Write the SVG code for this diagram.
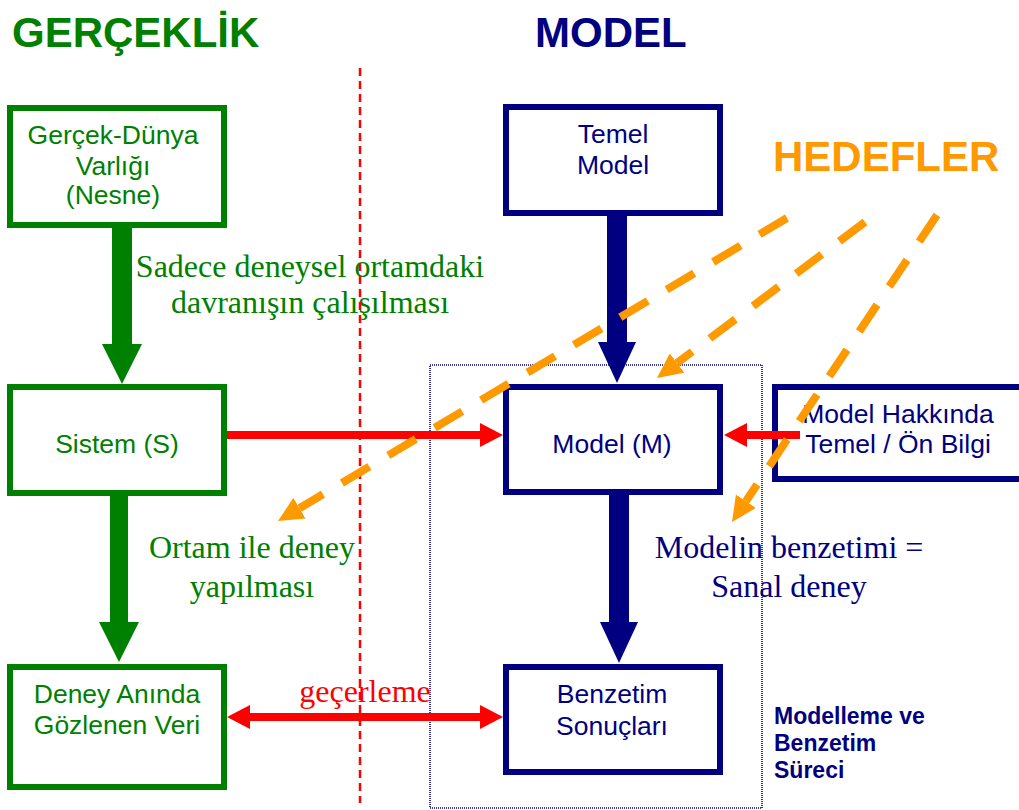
<svg xmlns="http://www.w3.org/2000/svg" width="1019" height="810" viewBox="0 0 1019 810">
  <style>
    .sans { font-family: "Liberation Sans", Arial, sans-serif; }
    .serif { font-family: "Liberation Serif", "Times New Roman", serif; font-size: 32px; }
    .title { font-family: "Liberation Sans", Arial, sans-serif; font-size: 42px; font-weight: bold; }
    .gbox { fill: #ffffff; stroke: #008000; stroke-width: 6; }
    .nbox { fill: #ffffff; stroke: #000080; stroke-width: 6; }
    .glabel { font-family: "Liberation Sans", Arial, sans-serif; font-size: 26.5px; fill: #008000; text-anchor: middle; }
    .nlabel { font-family: "Liberation Sans", Arial, sans-serif; font-size: 26.5px; fill: #000080; text-anchor: middle; }
    .green-flow { stroke: #008000; fill: none; }
    .navy-flow { stroke: #000080; stroke-width: 20; fill: none; }
    .red-flow { stroke: #ff0000; stroke-width: 8; fill: none; }
    .goal { stroke: #ff9900; stroke-width: 8; stroke-dasharray: 32 22; fill: none; }
  </style>
  <defs>
    <marker id="greenHead" markerUnits="userSpaceOnUse" markerWidth="40" markerHeight="40" refX="0" refY="20" orient="auto" viewBox="0 0 40 40">
      <path d="M0,0 L40,20 L0,40 z" fill="#008000"/>
    </marker>
    <marker id="navyHead" markerUnits="userSpaceOnUse" markerWidth="41" markerHeight="38" refX="0" refY="19" orient="auto" viewBox="0 0 41 38">
      <path d="M0,0 L41,19 L0,38 z" fill="#000080"/>
    </marker>
    <marker id="redHead" markerUnits="userSpaceOnUse" markerWidth="23" markerHeight="24" refX="0" refY="12" orient="auto-start-reverse" viewBox="0 0 23 24">
      <path d="M0,0 L23,12 L0,24 z" fill="#ff0000"/>
    </marker>
    <marker id="orangeHead" markerUnits="userSpaceOnUse" markerWidth="25" markerHeight="24" refX="0" refY="12" orient="auto" viewBox="0 0 25 24">
      <path d="M0,0 L25,12 L0,24 z" fill="#ff9900"/>
    </marker>
  </defs>

  <rect x="0" y="0" width="1019" height="810" fill="#ffffff"/>

  <!-- column headings -->
  <text class="title" x="12" y="47" fill="#008000">GERÇEKLİK</text>
  <text class="title" x="535" y="47" fill="#000080">MODEL</text>
  <text class="title" x="773" y="171" fill="#ff9900">HEDEFLER</text>

  <!-- modelling / simulation frame -->
  <rect id="process-frame" x="430" y="365" width="332" height="443" fill="none" stroke="#000080" stroke-width="1.6" stroke-dasharray="1 1"/>

  <!-- reality side -->
  <g id="real-world-entity">
    <rect class="gbox" x="10" y="108" width="214" height="117"/>
    <text class="glabel" x="113" y="144">Gerçek-Dünya</text>
    <text class="glabel" x="113" y="175">Varlığı</text>
    <text class="glabel" x="113" y="204">(Nesne)</text>
  </g>
  <g id="system">
    <rect class="gbox" x="10" y="387" width="214" height="106"/>
    <text class="glabel" x="117" y="453">Sistem (S)</text>
  </g>
  <g id="observed-data">
    <rect class="gbox" x="10" y="667" width="214" height="120"/>
    <text class="glabel" x="117" y="703">Deney Anında</text>
    <text class="glabel" x="117" y="734">Gözlenen Veri</text>
  </g>

  <!-- model side -->
  <g id="base-model">
    <rect class="nbox" x="506" y="107" width="214" height="106"/>
    <text class="nlabel" x="613" y="143">Temel</text>
    <text class="nlabel" x="613" y="174">Model</text>
  </g>
  <g id="model">
    <rect class="nbox" x="506" y="387" width="214" height="105"/>
    <text class="nlabel" x="612" y="453">Model (M)</text>
  </g>
  <g id="prior-knowledge">
    <rect class="nbox" x="775" y="387" width="260" height="92"/>
    <text class="nlabel" x="898" y="423">Model Hakkında</text>
    <text class="nlabel" x="898" y="453">Temel / Ön Bilgi</text>
  </g>
  <g id="simulation-results">
    <rect class="nbox" x="506" y="667" width="214" height="105"/>
    <text class="nlabel" x="612" y="703">Benzetim</text>
    <text class="nlabel" x="612" y="735">Sonuçları</text>
  </g>

  <!-- edge labels -->
  <g id="labels">
    <text class="serif" x="310" y="277" fill="#008000" text-anchor="middle">Sadece deneysel ortamdaki</text>
    <text class="serif" x="310" y="313" fill="#008000" text-anchor="middle">davranışın çalışılması</text>
    <text class="serif" x="252" y="558" fill="#008000" text-anchor="middle">Ortam ile deney</text>
    <text class="serif" x="252" y="597" fill="#008000" text-anchor="middle">yapılması</text>
    <text class="serif" x="789" y="558" fill="#000080" text-anchor="middle">Modelin benzetimi =</text>
    <text class="serif" x="789" y="597" fill="#000080" text-anchor="middle">Sanal deney</text>
    <text class="serif" x="365" y="702" fill="#ff0000" text-anchor="middle">geçerleme</text>
    <g class="sans" font-size="23" font-weight="bold" fill="#000080">
      <text x="774" y="724">Modelleme ve</text>
      <text x="774" y="751">Benzetim</text>
      <text x="774" y="778">Süreci</text>
    </g>
  </g>

  <!-- reality / model divider -->
  <line id="divider" x1="360" y1="68" x2="360" y2="803" stroke="#ff0000" stroke-width="2.5" stroke-dasharray="8 5"/>

  <g id="connectors">
    <!-- reality chain -->
    <line class="green-flow" x1="122" y1="228" x2="122" y2="344" stroke-width="20" marker-end="url(#greenHead)"/>
    <line class="green-flow" x1="119" y1="495" x2="119" y2="622" stroke-width="18" marker-end="url(#greenHead)"/>
    <!-- model chain -->
    <line class="navy-flow" x1="617" y1="216" x2="617" y2="342" marker-end="url(#navyHead)"/>
    <line class="navy-flow" x1="619" y1="495" x2="619" y2="622" marker-end="url(#navyHead)"/>
    <!-- system and prior knowledge feed the model -->
    <line class="red-flow" x1="227" y1="435" x2="480" y2="435" marker-end="url(#redHead)"/>
    <line class="red-flow" x1="800" y1="435" x2="747" y2="435" marker-end="url(#redHead)"/>
    <!-- validation -->
    <line class="red-flow" x1="250" y1="717" x2="480" y2="717" marker-start="url(#redHead)" marker-end="url(#redHead)"/>
    <!-- goals -->
    <line class="goal" x1="787" y1="218" x2="299.5" y2="508.2" marker-end="url(#orangeHead)"/>
    <line class="goal" x1="865" y1="222" x2="677" y2="363" marker-end="url(#orangeHead)"/>
    <line class="goal" x1="937" y1="215" x2="745.9" y2="501.2" marker-end="url(#orangeHead)"/>
  </g>
</svg>
